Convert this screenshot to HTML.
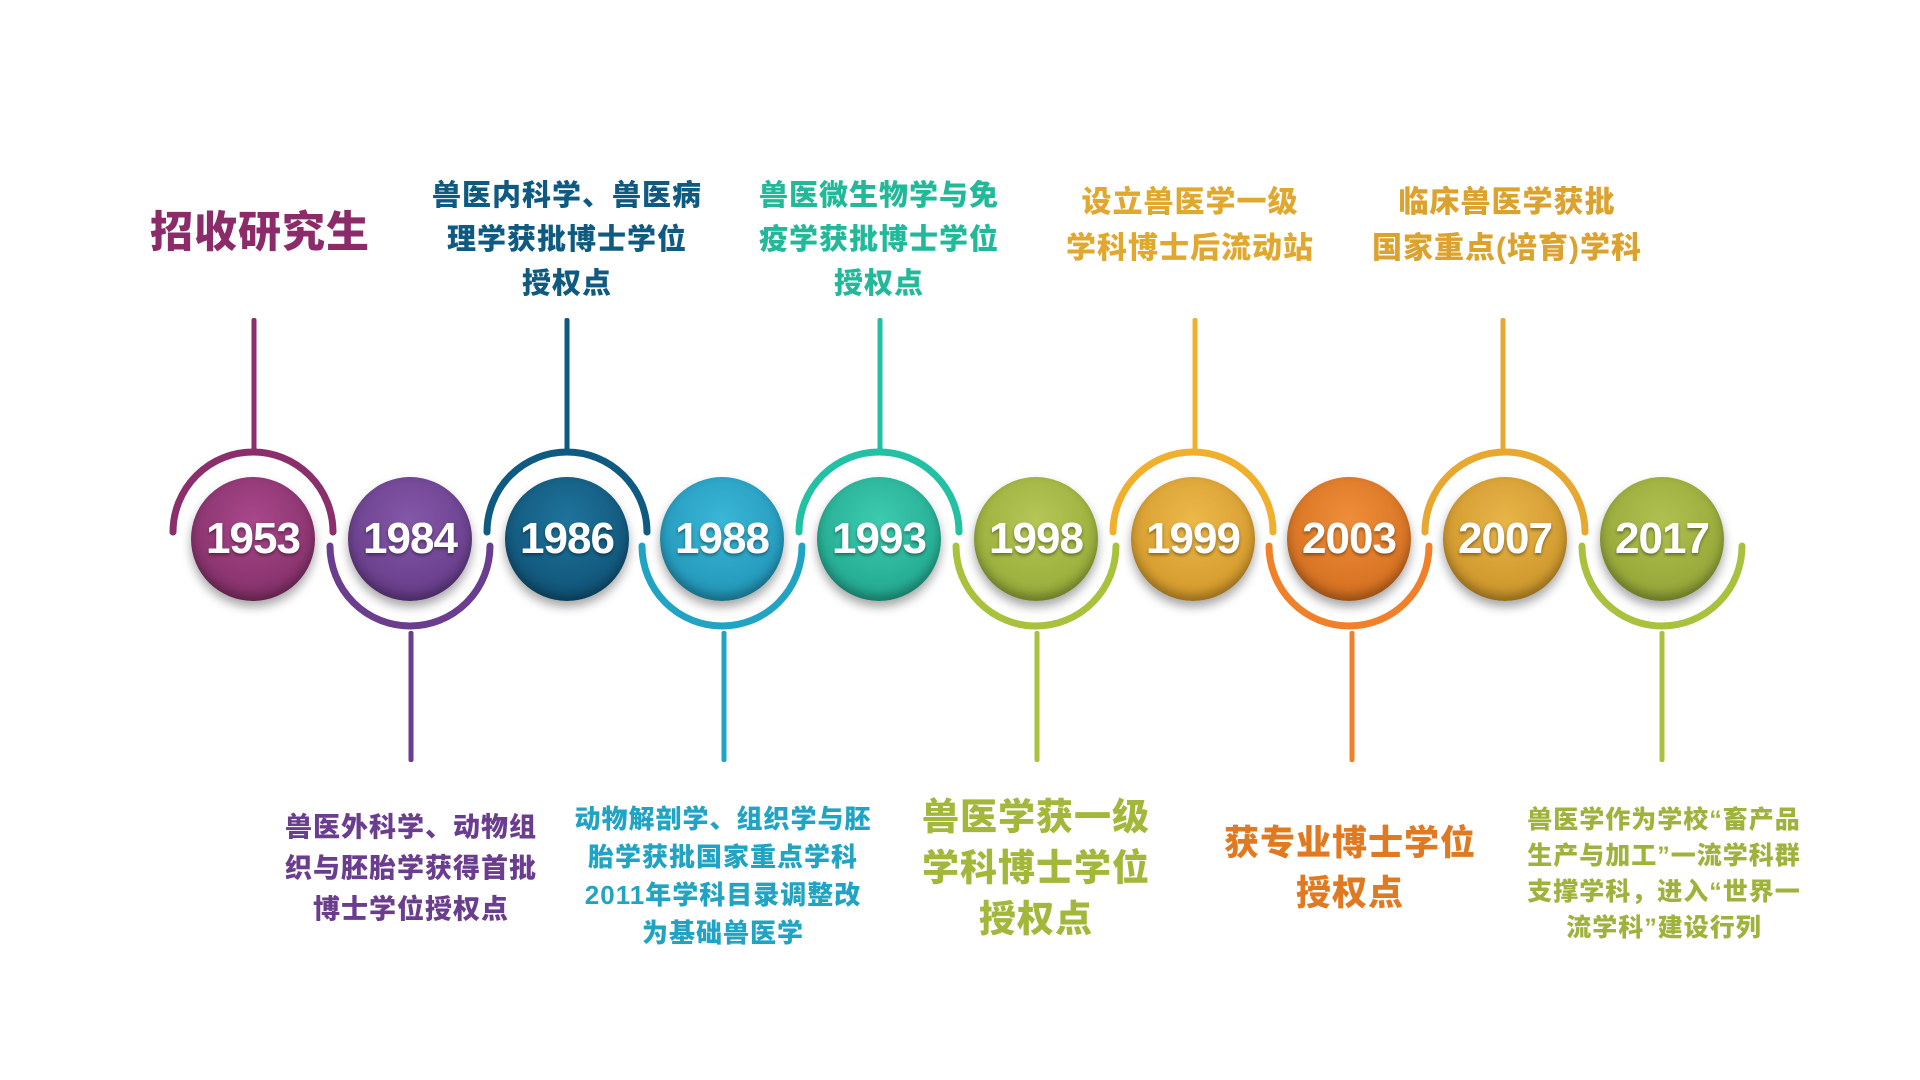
<!DOCTYPE html>
<html><head><meta charset="utf-8"><style>
body{margin:0;width:1920px;height:1080px;background:#fff;position:relative;overflow:hidden;font-family:"Liberation Sans","Noto Sans CJK SC",sans-serif;font-weight:bold}
.t{position:absolute;transform:translate(-50%,-50%);text-align:center;white-space:nowrap;font-weight:900;letter-spacing:1px}
.c{position:absolute;width:124px;height:124px;border-radius:50%;transform:translate(-50%,-50%);display:flex;align-items:center;justify-content:center;color:#fff;font-size:44px;font-weight:bold;box-shadow:inset 0 -6px 10px rgba(0,0,0,.3),0 6px 10px rgba(0,0,0,.35);text-shadow:0 2px 3px rgba(0,0,0,.4);letter-spacing:-1px}
.l{position:absolute;width:5px;border-radius:2px;transform:translateX(-50%)}
</style></head><body>
<svg width="1920" height="1080" style="position:absolute;left:0;top:0">
<g fill="none" stroke-width="7" stroke-linecap="round">
<path d="M173 532 A80 80 0 0 1 333 532" stroke="#8a2f6b"/>
<path d="M330 546 A80 80 0 0 0 490 546" stroke="#6a3d8e"/>
<path d="M487 532 A80 80 0 0 1 647 532" stroke="#0f5a80"/>
<path d="M642 546 A80 80 0 0 0 802 546" stroke="#21a3c4"/>
<path d="M799 532 A80 80 0 0 1 959 532" stroke="#22c1a4"/>
<path d="M956 546 A80 80 0 0 0 1116 546" stroke="#a9c23e"/>
<path d="M1113 532 A80 80 0 0 1 1273 532" stroke="#f0b02e"/>
<path d="M1269 546 A80 80 0 0 0 1429 546" stroke="#f0802a"/>
<path d="M1425 532 A80 80 0 0 1 1585 532" stroke="#e6a830"/>
<path d="M1582 546 A80 80 0 0 0 1742 546" stroke="#a9c23e"/>
</g></svg>
<div class="l" style="left:254px;top:318px;height:133px;background:#8a2f6b"></div>
<div class="l" style="left:567px;top:318px;height:133px;background:#0f5a80"></div>
<div class="l" style="left:880px;top:318px;height:133px;background:#22c1a4"></div>
<div class="l" style="left:1195px;top:318px;height:133px;background:#f0b02e"></div>
<div class="l" style="left:1503px;top:318px;height:133px;background:#e6a830"></div>
<div class="l" style="left:411px;top:631px;height:131px;background:#6a3d8e"></div>
<div class="l" style="left:724px;top:631px;height:131px;background:#21a3c4"></div>
<div class="l" style="left:1037px;top:631px;height:131px;background:#a9c23e"></div>
<div class="l" style="left:1352px;top:631px;height:131px;background:#f0802a"></div>
<div class="l" style="left:1662px;top:631px;height:131px;background:#a9c23e"></div>
<div class="c" style="left:253px;top:539px;background:radial-gradient(circle at 50% 35%,#a8478a,#7a2a60)">1953</div>
<div class="c" style="left:410px;top:539px;background:radial-gradient(circle at 50% 35%,#8458a8,#5e3480)">1984</div>
<div class="c" style="left:567px;top:539px;background:radial-gradient(circle at 50% 35%,#1f739c,#0c4a6c)">1986</div>
<div class="c" style="left:722px;top:539px;background:radial-gradient(circle at 50% 35%,#3ab6d6,#1b8db0)">1988</div>
<div class="c" style="left:879px;top:539px;background:radial-gradient(circle at 50% 35%,#3ccbae,#1b9e86)">1993</div>
<div class="c" style="left:1036px;top:539px;background:radial-gradient(circle at 50% 35%,#b5c655,#8ea532)">1998</div>
<div class="c" style="left:1193px;top:539px;background:radial-gradient(circle at 50% 35%,#ecb84a,#cc9022)">1999</div>
<div class="c" style="left:1349px;top:539px;background:radial-gradient(circle at 50% 35%,#ee8e3a,#cc6618)">2003</div>
<div class="c" style="left:1505px;top:539px;background:radial-gradient(circle at 50% 35%,#e8b448,#c48c22)">2007</div>
<div class="c" style="left:1662px;top:539px;background:radial-gradient(circle at 50% 35%,#b0c050,#8c9e30)">2017</div>

<div class="t" style="left:260px;top:229px;font-size:43px;color:#8b2b6a">招收研究生</div>
<div class="t" style="left:567px;top:240px;font-size:29px;line-height:44px;color:#0f5a80">兽医内科学、兽医病<br>理学获批博士学位<br>授权点</div>
<div class="t" style="left:879px;top:240px;font-size:29px;line-height:44px;color:#22b89a">兽医微生物学与免<br>疫学获批博士学位<br>授权点</div>
<div class="t" style="left:1190px;top:226px;font-size:30px;line-height:46px;color:#e0a82e">设立兽医学一级<br>学科博士后流动站</div>
<div class="t" style="left:1507px;top:226px;font-size:30px;line-height:46px;color:#dba22e">临床兽医学获批<br>国家重点(培育)学科</div>
<div class="t" style="left:411px;top:869px;font-size:27px;line-height:41px;color:#6a3d8e">兽医外科学、动物组<br>织与胚胎学获得首批<br>博士学位授权点</div>
<div class="t" style="left:723px;top:876px;font-size:26px;line-height:38px;color:#21a3c4">动物解剖学、组织学与胚<br>胎学获批国家重点学科<br>2011年学科目录调整改<br>为基础兽医学</div>
<div class="t" style="left:1036px;top:868px;font-size:37px;line-height:51px;color:#a3b83a">兽医学获一级<br>学科博士学位<br>授权点</div>
<div class="t" style="left:1350px;top:869px;font-size:35px;line-height:50px;color:#e07a22">获专业博士学位<br>授权点</div>
<div class="t" style="left:1664px;top:874px;font-size:25px;line-height:36px;color:#9fb23c">兽医学作为学校“畜产品<br>生产与加工”一流学科群<br>支撑学科，进入“世界一<br>流学科”建设行列</div>
</body></html>
